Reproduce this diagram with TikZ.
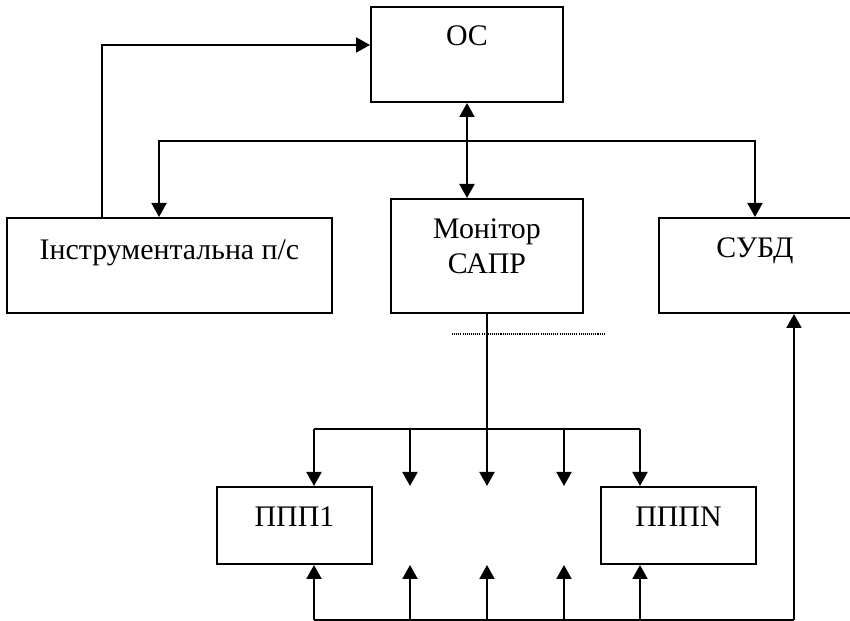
\documentclass[tikz,border=0pt]{standalone}
\usepackage{fontspec}
\setmainfont{Liberation Serif}
\usetikzlibrary{arrows.meta,positioning,calc}
\tikzset{
  block/.style={draw, line width=1.15pt, inner sep=0pt},
  caption/.style={anchor=north, inner sep=0pt, align=center, font=\fontsize{17}{19.9}\selectfont},
  wire/.style={line width=1.15pt},
  link/.style={wire, -{Triangle[length=2.8mm,width=3mm]}},
  bilink/.style={wire, {Triangle[length=2.8mm,width=3mm]}-{Triangle[length=2.8mm,width=3mm]}},
}
\begin{document}
\begin{tikzpicture}[x=0.02cm, y=-0.02cm]
    \useasboundingbox (0,0) rectangle (850,621);
    % Blocks
    \node[block, minimum width=3.84cm, minimum height=1.9cm] (os) at (467,54.5) {};
    \node[block, minimum width=6.5cm, minimum height=1.9cm] (instr) at (169.5,265.5) {};
    \node[block, minimum width=3.84cm, minimum height=2.28cm] (mon) at (487,256) {};
    \node[block, minimum width=3.84cm, minimum height=1.9cm] (subd) at (755,265.5) {};
    \node[block, minimum width=3.1cm, minimum height=1.54cm] (ppp1) at (294.5,525.5) {};
    \node[block, minimum width=3.1cm, minimum height=1.54cm] (pppn) at (678.5,525.5) {};
    \node[caption, below=0.39cm of os.north] (ostext) {ОС};
    \node[caption, below=0.44cm of instr.north] (instrtext) {Інструментальна п/с};
    \node[caption, below=0.40cm of mon.north] (montext) {Монітор\\САПР};
    \node[caption, below=0.41cm of subd.north] (subdtext) {СУБД};
    \node[caption, below=0.41cm of ppp1.north] (ppp1text) {ППП1};
    \node[caption, below=0.41cm of pppn.north] (pppntext) {ПППN};

    % Upper links
    \draw[link] ($(instr.north west)+(96,0)$) |- ($(os.north west)+(0,39)$);
    \coordinate (bus) at (467,141);
    \draw[link] (bus) -| ($(instr.north west)+(153,0)$);
    \draw[link] (bus) -| (subd.north);
    \draw[bilink] (os.south) -- (os.south |- mon.north);

    % Monitor to packages
    \coordinate (split) at (487,429);
    \draw[wire] (mon.south) -- (split);
    \draw[line width=0.6pt, dash pattern=on 0.6pt off 0.6pt] (452,334) -- (605,334);
    \coordinate (dl) at (314,429);
    \coordinate (dr) at (640,429);
    \draw[wire] (dl) -- (dr);
    \draw[link] (dl) -- (dl |- ppp1.north);
    \draw[link] (dr) -- (dr |- pppn.north);
    \foreach \x in {410,487,564} {
        \coordinate (dn\x) at (\x,486);
        \draw[link] (\x,429) -- (dn\x);
    }

    % Return bus
    \coordinate (ul) at (314,620);
    \coordinate (un) at (640,620);
    \coordinate (ur) at (794,620);
    \draw[wire] (ul) -- (ur);
    \draw[link] (ul) -- (ul |- ppp1.south);
    \draw[link] (un) -- (un |- pppn.south);
    \draw[link] (ur) -- (ur |- subd.south);
    \foreach \x in {410,487,564} {
        \coordinate (up\x) at (\x,565);
        \draw[link] (\x,620) -- (up\x);
    }
\end{tikzpicture}
\end{document}
